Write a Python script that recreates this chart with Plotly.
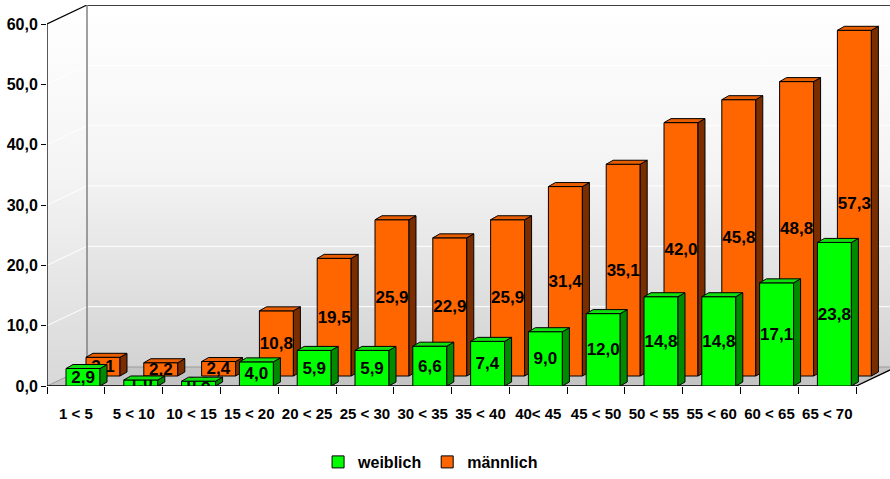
import plotly.graph_objects as go

# Altersgruppen und Werte je Geschlecht
categories = ["1 < 5", "5 < 10", "10 < 15", "15 < 20", "20 < 25", "25 < 30", "30 < 35",
              "35 < 40", "40< 45", "45 < 50", "50 < 55", "55 < 60", "60 < 65", "65 < 70"]
weiblich = [2.9, 1.0, 0.8, 4.0, 5.9, 5.9, 6.6, 7.4, 9.0, 12.0, 14.8, 14.8, 17.1, 23.8]
maennlich = [3.1, 2.2, 2.4, 10.8, 19.5, 25.9, 22.9, 25.9, 31.4, 35.1, 42.0, 45.8, 48.8, 57.3]
y_ticks = [0, 10, 20, 30, 40, 50, 60]

FONT = "Liberation Sans Narrow, Arial Narrow, Liberation Sans, Arial, sans-serif"

# Geometrie der Pseudo-3D-Darstellung (in Achseneinheiten)
X0, X1 = -0.5, 14.085
Y1 = 63.15
WALL_DX, WALL_DY = 0.692, 3.149      # Tiefe des Bodens / der Rückwand
ROW_DX, ROW_DY = 0.346, 1.657        # Versatz der hinteren Reihe
BAR_DX, BAR_DY = 0.121, 0.663        # Tiefe einer Säule
BAR_W = 0.588
OFF_F = -0.171

fig = go.Figure()

# Rückwand mit Verlauf
bx = X0 + WALL_DX
fig.add_trace(go.Scatter(
    x=[bx, X1, X1, bx, bx], y=[WALL_DY, WALL_DY, 60 + WALL_DY, 60 + WALL_DY, WALL_DY],
    fill="toself", mode="none", showlegend=False, hoverinfo="skip",
    fillgradient=dict(type="vertical", start=WALL_DY, stop=60 + WALL_DY,
                      colorscale=[[0, "#d3d3d3"], [0.55, "#f4f4f4"], [1, "#ffffff"]]),
    xaxis="x", yaxis="y"))
# Seitenwand links
fig.add_trace(go.Scatter(
    x=[X0, bx, bx, X0, X0], y=[0, WALL_DY, 60 + WALL_DY, 60, 0],
    fill="toself", mode="none", showlegend=False, hoverinfo="skip",
    fillgradient=dict(type="vertical", start=0, stop=60 + WALL_DY,
                      colorscale=[[0, "#d8d8d8"], [0.55, "#f4f4f4"], [1, "#ffffff"]]),
    xaxis="x", yaxis="y"))
# Gitternetzlinien
gx, gy = [], []
for v in y_ticks[1:-1]:
    gx += [X0, bx, X1, None]
    gy += [v, v + WALL_DY, v + WALL_DY, None]
fig.add_trace(go.Scatter(x=gx, y=gy, mode="lines", line=dict(color="white", width=1),
                         showlegend=False, hoverinfo="skip", xaxis="x", yaxis="y"))
# Boden
n = len(categories)
fx_r = n - 0.5
fig.add_trace(go.Scatter(
    x=[X0, fx_r, fx_r + WALL_DX, bx, X0], y=[0, 0, WALL_DY, WALL_DY, 0],
    fill="toself", fillcolor="#c4c4c4", mode="lines", line=dict(color="#9a9a9a", width=1),
    showlegend=False, hoverinfo="skip", xaxis="x", yaxis="y"))
# Kanten
fig.add_trace(go.Scatter(
    x=[X0, fx_r, fx_r + WALL_DX, None, X0, X0, bx, X1],
    y=[0, 0, WALL_DY, None, 0, 60, 60 + WALL_DY, 60 + WALL_DY],
    mode="lines", line=dict(color="black", width=1.3),
    showlegend=False, hoverinfo="skip", xaxis="x", yaxis="y"))
fig.add_trace(go.Scatter(
    x=[bx, bx], y=[WALL_DY, 60 + WALL_DY], mode="lines", line=dict(color="#808080", width=1.5),
    showlegend=False, hoverinfo="skip", xaxis="x", yaxis="y"))


def add_series(values, name, off, base, front, side, top, xa, ya, rank):
    xs_side, ys_side, xs_top, ys_top = [], [], [], []
    for i, v in enumerate(values):
        xs = i + off
        xe = xs + BAR_W
        t = base + v
        xs_side += [xe, xe + BAR_DX, xe + BAR_DX, xe, xe, None]
        ys_side += [base, base + BAR_DY, t + BAR_DY, t, base, None]
        xs_top += [xs, xe, xe + BAR_DX, xs + BAR_DX, xs, None]
        ys_top += [t, t, t + BAR_DY, t + BAR_DY, t, None]
    fig.add_trace(go.Bar(
        x=list(range(len(values))), y=values, base=base, offset=off, width=BAR_W,
        name=name, marker=dict(color=front, line=dict(color="black", width=1)),
        texttemplate="%{y:.1f}", textposition="inside", insidetextanchor="middle",
        textangle=0, constraintext="none",
        textfont=dict(family=FONT, size=17, color="black", weight="bold"),
        legendrank=rank, xaxis=xa, yaxis=ya))
    fig.add_trace(go.Scatter(x=xs_side, y=ys_side, fill="toself", fillcolor=side, mode="lines",
                             line=dict(color="black", width=1), showlegend=False,
                             hoverinfo="skip", xaxis=xa, yaxis=ya))
    fig.add_trace(go.Scatter(x=xs_top, y=ys_top, fill="toself", fillcolor=top, mode="lines",
                             line=dict(color="black", width=1), showlegend=False,
                             hoverinfo="skip", xaxis=xa, yaxis=ya))


# hintere Reihe: männlich, vordere Reihe: weiblich
add_series(maennlich, "männlich", OFF_F + ROW_DX, ROW_DY, "#ff6600", "#7a2e00", "#e85d00", "x2", "y2", 2)
add_series(weiblich, "weiblich", OFF_F, 0, "#00ff00", "#008a00", "#10e010", "x3", "y3", 1)

hidden = dict(range=[X0, X1], visible=False, fixedrange=True)
hidden_y = dict(range=[0, Y1], visible=False, fixedrange=True)

fig.update_layout(
    width=890, height=479,
    margin=dict(l=47, r=0, t=5, b=93),
    paper_bgcolor="white", plot_bgcolor="white",
    separators=",.",
    barmode="overlay",
    font=dict(family=FONT, size=16, color="black"),
    xaxis=dict(range=[X0, X1], tickvals=list(range(n)), ticktext=categories,
               ticks="", showgrid=False, zeroline=False, showline=False, fixedrange=True,
               ticklabelstandoff=17, tickangle=0,
               tickfont=dict(family=FONT, size=15, color="black", weight="bold"),
               minor=dict(tickvals=[i - 0.5 for i in range(n + 1)], ticks="outside",
                          ticklen=7, tickcolor="black", tickwidth=1, showgrid=False)),
    yaxis=dict(range=[0, Y1], tickvals=y_ticks, tickformat=".1f", ticks="outside",
               ticklen=5, tickcolor="black", showgrid=False, zeroline=False,
               showline=False, fixedrange=True,
               tickfont=dict(family=FONT, size=16, color="black", weight="bold")),
    xaxis2=dict(overlaying="x", **hidden),
    yaxis2=dict(overlaying="y", **hidden_y),
    xaxis3=dict(overlaying="x", **hidden),
    yaxis3=dict(overlaying="y", **hidden_y),
    legend=dict(orientation="h", x=0.455, xanchor="center", y=-0.2, yanchor="middle",
                font=dict(family=FONT, size=16, color="black", weight="bold"),
                itemwidth=30, bgcolor="rgba(0,0,0,0)"),
    showlegend=True,
)

fig.write_html("out.html")
